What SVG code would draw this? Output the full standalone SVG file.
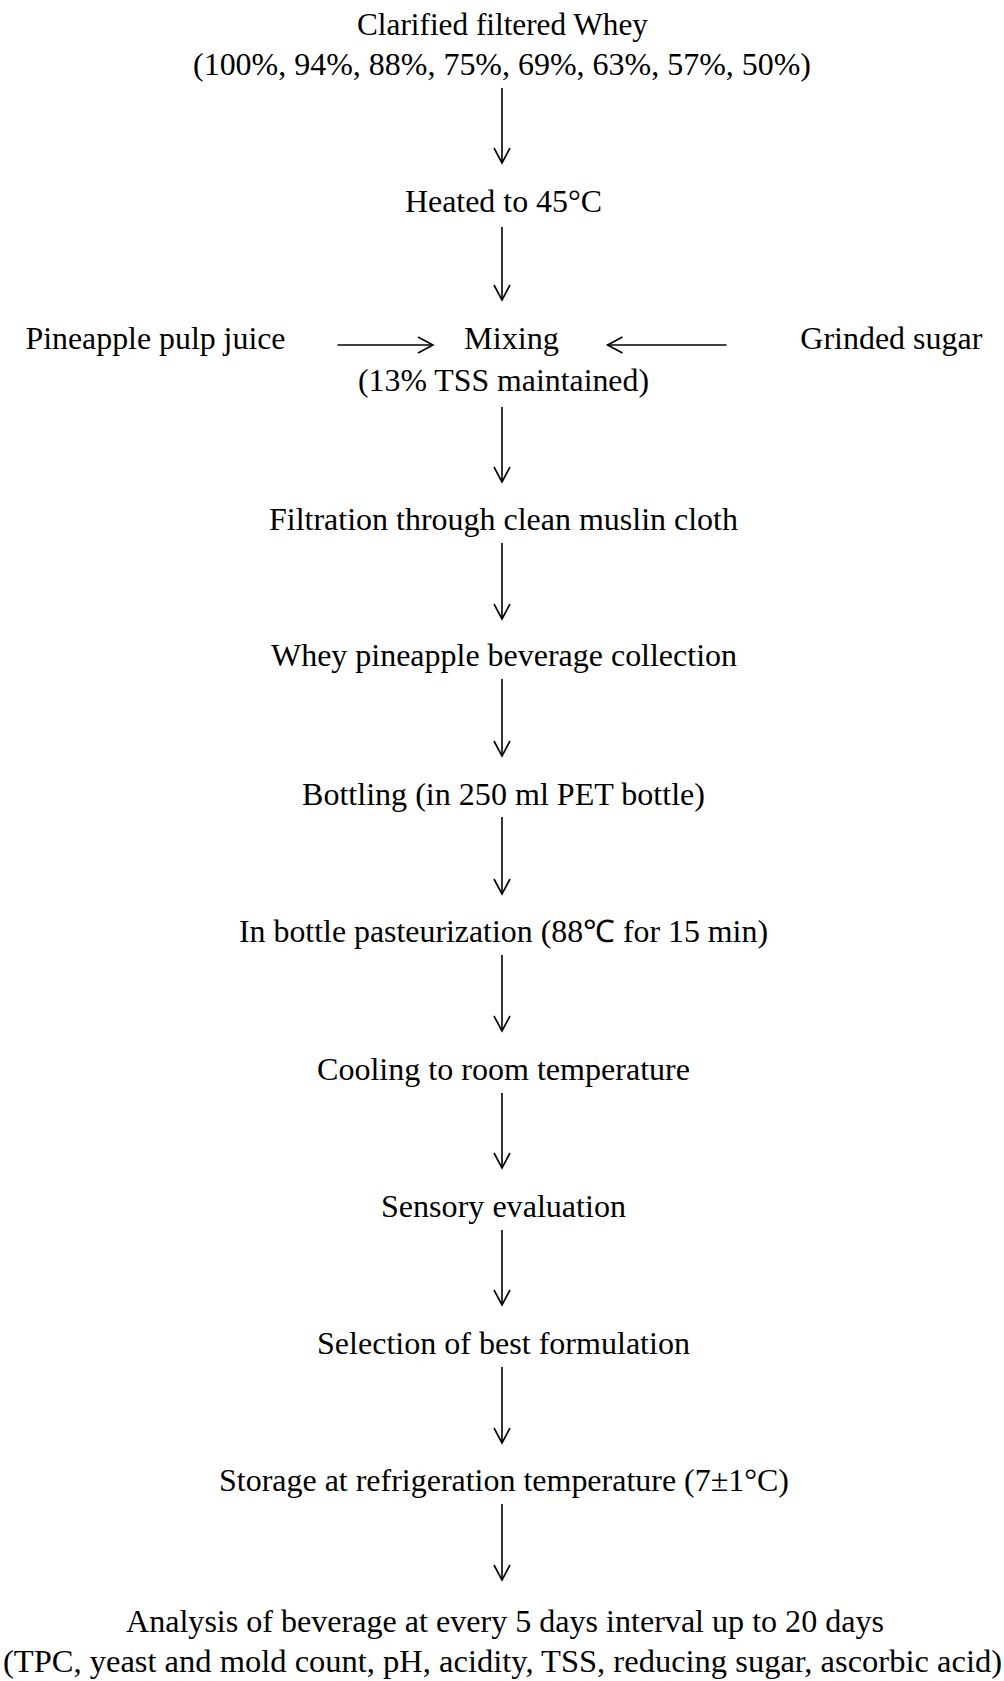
<svg xmlns="http://www.w3.org/2000/svg" width="1004" height="1681" viewBox="0 0 1004 1681">
<style>
text{font-family:"Liberation Serif",Tinos,"Times New Roman",Times,serif;font-size:31px;fill:#000;text-anchor:middle}
.c{stroke:#000;stroke-width:1.6;fill:none}
</style>
<defs>
<marker id="ah" markerUnits="userSpaceOnUse" markerWidth="20" markerHeight="20" refX="0" refY="0" viewBox="-16 -10 18 20" orient="auto">
<path d="M-15,-8 L0,0 L-15,8" fill="none" stroke="#000" stroke-width="1.6"/>
</marker>
</defs>
<rect width="1004" height="1681" fill="#fff"/>
<g font-family="Liberation Serif, serif">
<g id="n1"><text x="502.5" y="35" textLength="291" lengthAdjust="spacingAndGlyphs">Clarified filtered Whey</text><text x="502" y="75" textLength="618" lengthAdjust="spacingAndGlyphs">(100%, 94%, 88%, 75%, 69%, 63%, 57%, 50%)</text></g>
<g id="n2"><text x="503.5" y="212" textLength="197" lengthAdjust="spacingAndGlyphs">Heated to 45°C</text></g>
<g id="n3"><text x="155.5" y="349" textLength="260" lengthAdjust="spacingAndGlyphs">Pineapple pulp juice</text></g>
<g id="n4"><text x="511.5" y="349" textLength="95" lengthAdjust="spacingAndGlyphs">Mixing</text><text x="503.5" y="391" textLength="291" lengthAdjust="spacingAndGlyphs">(13% TSS maintained)</text></g>
<g id="n5"><text x="891.3" y="349" textLength="182" lengthAdjust="spacingAndGlyphs">Grinded sugar</text></g>
<g id="n6"><text x="503.5" y="530" textLength="469" lengthAdjust="spacingAndGlyphs">Filtration through clean muslin cloth</text></g>
<g id="n7"><text x="504" y="666" textLength="466" lengthAdjust="spacingAndGlyphs">Whey pineapple beverage collection</text></g>
<g id="n8"><text x="503.5" y="804.5" textLength="403" lengthAdjust="spacingAndGlyphs">Bottling (in 250 ml PET bottle)</text></g>
<g id="n9"><text x="503.5" y="942" textLength="529" lengthAdjust="spacingAndGlyphs">In bottle pasteurization (88℃ for 15 min)</text></g>
<g id="n10"><text x="503.5" y="1080" textLength="373" lengthAdjust="spacingAndGlyphs">Cooling to room temperature</text></g>
<g id="n11"><text x="503.5" y="1217" textLength="245" lengthAdjust="spacingAndGlyphs">Sensory evaluation</text></g>
<g id="n12"><text x="503.5" y="1354" textLength="373" lengthAdjust="spacingAndGlyphs">Selection of best formulation</text></g>
<g id="n13"><text x="504" y="1491" textLength="570" lengthAdjust="spacingAndGlyphs">Storage at refrigeration temperature (7±1°C)</text></g>
<g id="n14"><text x="505" y="1632" textLength="758" lengthAdjust="spacingAndGlyphs">Analysis of beverage at every 5 days interval up to 20 days</text><text x="502.5" y="1672" textLength="999" lengthAdjust="spacingAndGlyphs">(TPC, yeast and mold count, pH, acidity, TSS, reducing sugar, ascorbic acid)</text></g>
</g>
<g id="connectors" class="c">
<line x1="502" y1="88" x2="502" y2="163" marker-end="url(#ah)"/>
<line x1="502" y1="227" x2="502" y2="300" marker-end="url(#ah)"/>
<line x1="337.5" y1="345" x2="433" y2="345" marker-end="url(#ah)"/>
<line x1="726.5" y1="345" x2="607.5" y2="345" marker-end="url(#ah)"/>
<line x1="502" y1="407" x2="502" y2="482" marker-end="url(#ah)"/>
<line x1="502" y1="543" x2="502" y2="619" marker-end="url(#ah)"/>
<line x1="502" y1="679" x2="502" y2="756" marker-end="url(#ah)"/>
<line x1="502" y1="817" x2="502" y2="894" marker-end="url(#ah)"/>
<line x1="502" y1="955" x2="502" y2="1031" marker-end="url(#ah)"/>
<line x1="502" y1="1093" x2="502" y2="1168" marker-end="url(#ah)"/>
<line x1="502" y1="1230" x2="502" y2="1305" marker-end="url(#ah)"/>
<line x1="502" y1="1367" x2="502" y2="1443" marker-end="url(#ah)"/>
<line x1="502" y1="1504" x2="502" y2="1580" marker-end="url(#ah)"/>
</g>
</svg>
